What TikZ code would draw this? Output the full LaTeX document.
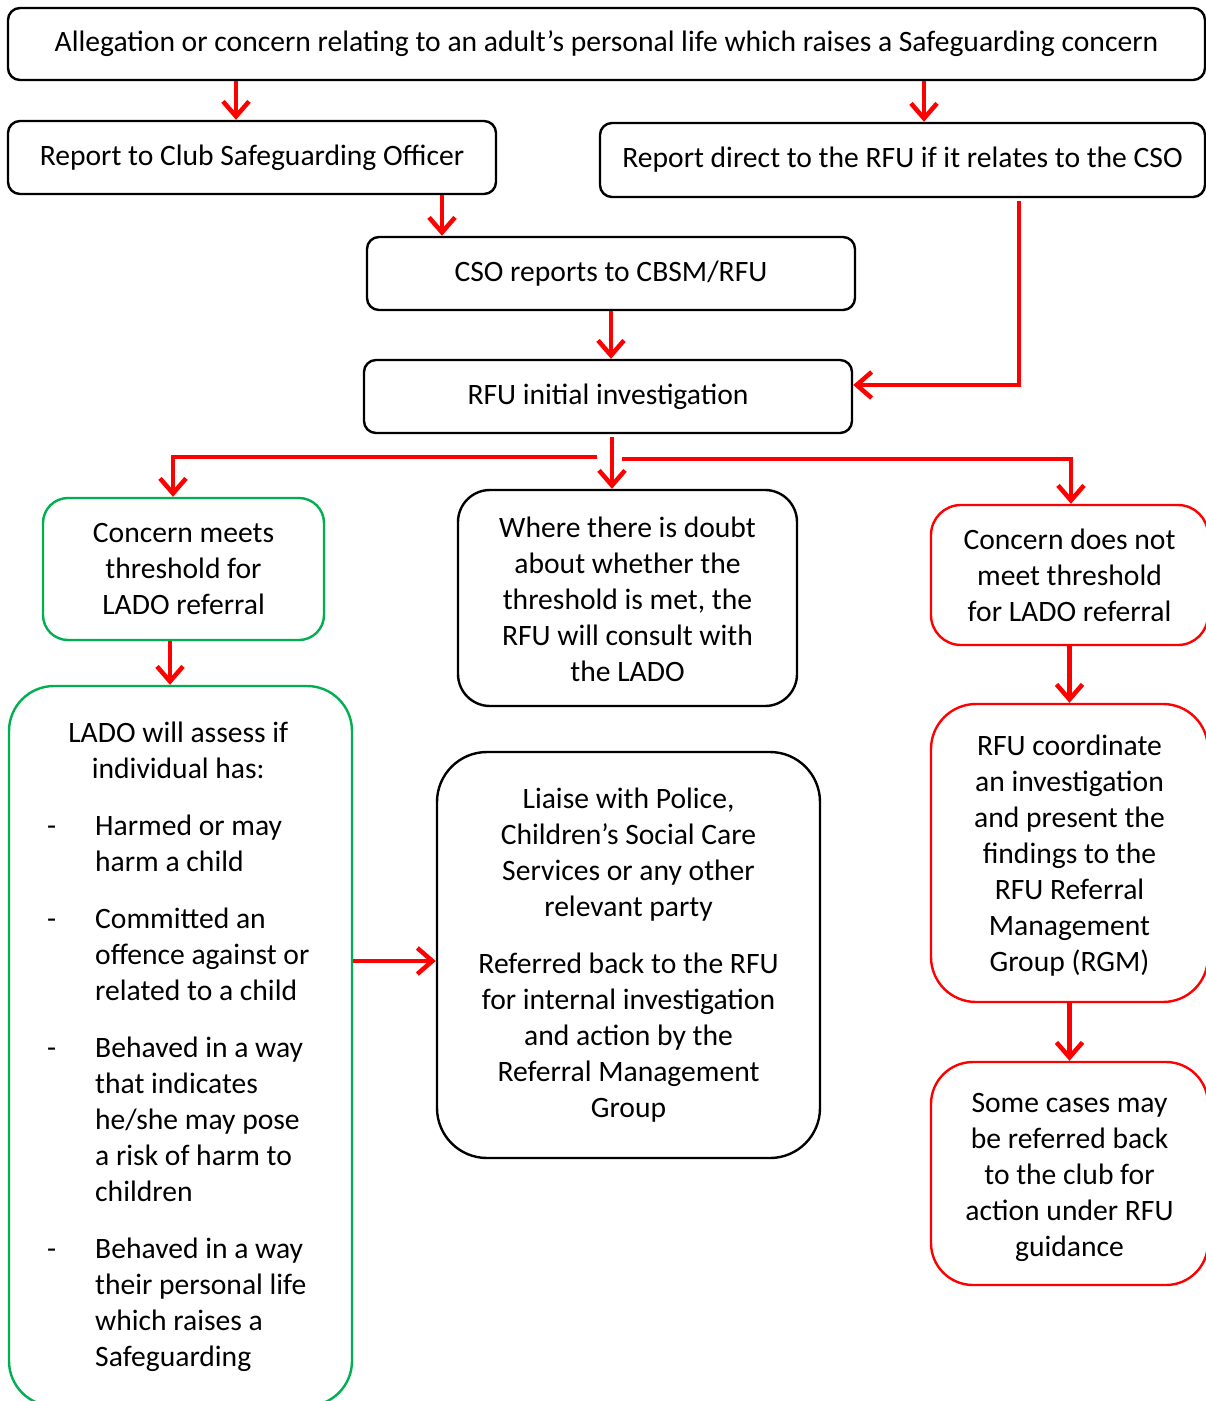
\documentclass[tikz,border=0pt]{standalone}
\usepackage{fontspec}
\setmainfont{Carlito}
\usetikzlibrary{arrows.meta}
\definecolor{ogreen}{HTML}{00B050}
\definecolor{ored}{HTML}{FF0000}
\newcommand\boxtext[2]{\raisebox{-#1}[\height][\depth]{\begin{tabular}{@{}c@{}}#2\end{tabular}}}
\begin{document}
\begin{tikzpicture}[x=1pt,y=-1pt,
 every node/.style={font=\fontsize{29.6}{36}\selectfont, align=center, inner sep=0pt},
 bbox/.style={draw=black, line width=2.4pt, rounded corners=12pt},
 gbox/.style={draw=ogreen, line width=2.4pt},
 rbox/.style={draw=ored, line width=2.4pt},
 arr/.style={draw=ored, line width=4.5pt, -{Straight Barb[length=15pt,width=26pt]}},
]
\useasboundingbox (0,0) rectangle (1206,1401);
\clip (0,0) rectangle (1206,1401);

\node[bbox, minimum width=1197pt, minimum height=72pt] (top) at (606.5,44)
  {Allegation or concern relating to an adult’s personal life which raises a Safeguarding concern};
\node[bbox, minimum width=488pt, minimum height=73pt] (cso) at (252,157.5)
  {\boxtext{0.5pt}{Report to Club Safeguarding Officer}};
\node[bbox, minimum width=605pt, minimum height=74pt] (direct) at (902.5,160)
  {Report direct to the RFU if it relates to the CSO};
\node[bbox, minimum width=488pt, minimum height=73pt] (csorep) at (611,273.5)
  {CSO reports to CBSM/RFU};
\node[bbox, minimum width=488pt, minimum height=73pt] (rfu) at (608,396.5)
  {RFU initial investigation};

\node[gbox, rounded corners=25pt, minimum width=281pt, minimum height=142pt] (meets) at (183.5,569)
  {\boxtext{2pt}{Concern meets\\threshold for\\LADO referral}};
\node[bbox, rounded corners=32pt, minimum width=339pt, minimum height=216pt] (doubt) at (627.5,598)
  {\boxtext{4pt}{Where there is doubt\\about whether the\\threshold is met, the\\RFU will consult with\\the LADO}};
\node[rbox, rounded corners=30pt, minimum width=277pt, minimum height=140pt] (notmeet) at (1069.5,575)
  {\boxtext{3pt}{Concern does not\\meet threshold\\for LADO referral}};

\node[gbox, rounded corners=45pt, minimum width=343pt, minimum height=720pt] (lado) at (180.5,1046) {};
\node[anchor=base west] (ladotext) at (47,742) {\begin{tabular}[t]{@{}p{48pt}@{}l@{}}
\multicolumn{2}{@{}c@{}}{LADO will assess if}\\
\multicolumn{2}{@{}c@{}}{individual has:}\\[21pt]
-& Harmed or may\\ & harm a child\\[21pt]
-& Committed an\\ & offence against or\\ & related to a child\\[21pt]
-& Behaved in a way\\ & that indicates\\ & he/she may pose\\ & a risk of harm to\\ & children\\[21pt]
-& Behaved in a way\\ & their personal life\\ & which raises a\\ & Safeguarding
\end{tabular}};

\node[bbox, rounded corners=50pt, minimum width=383pt, minimum height=406pt] (liaise) at (628.5,955)
  {\boxtext{1pt}{Liaise with Police,\\Children’s Social Care\\Services or any other\\relevant party\\[21pt]Referred back to the RFU\\for internal investigation\\and action by the\\Referral Management\\Group}};

\node[rbox, rounded corners=45pt, minimum width=277pt, minimum height=298pt] (coord) at (1069.5,853)
  {\boxtext{3pt}{RFU coordinate\\an investigation\\and present the\\findings to the\\RFU Referral\\Management\\Group (RGM)}};
\node[rbox, rounded corners=42pt, minimum width=277pt, minimum height=223pt] (some) at (1069.5,1173.5)
  {\boxtext{4pt}{Some cases may\\be referred back\\to the club for\\action under RFU\\guidance}};

% connectors
\draw[arr] ([xshift=-370.5pt]top.south) -- ([xshift=-16pt]cso.north);
\draw[arr] ([xshift=317.5pt]top.south) -- ([xshift=21.5pt]direct.north);
\draw[arr] ([xshift=190pt]cso.south) -- ([xshift=-169pt]csorep.north);
\draw[arr] (csorep.south) -- ([xshift=3pt]rfu.north);
\draw[arr] ([xshift=116.5pt,yshift=-3pt]direct.south) |- ([yshift=11.5pt]rfu.east);
\draw[arr] ([xshift=4pt,yshift=-3pt]rfu.south) -- ([xshift=-15.5pt]doubt.north);
\draw[arr] ([xshift=-11pt,yshift=-23pt]rfu.south) -| ([xshift=-10.5pt]meets.north);
\draw[arr] ([xshift=14pt,yshift=-25pt]rfu.south) -| ([xshift=1.5pt]notmeet.north);
\draw[arr] ([xshift=-13.5pt]meets.south) -- ([xshift=-10.5pt]lado.north);
\draw[arr] ([yshift=85pt]lado.east) -- ([yshift=-6pt]liaise.west);
\draw[arr] (notmeet.south) -- (coord.north);
\draw[arr] (coord.south) -- (some.north);
\end{tikzpicture}
\end{document}
